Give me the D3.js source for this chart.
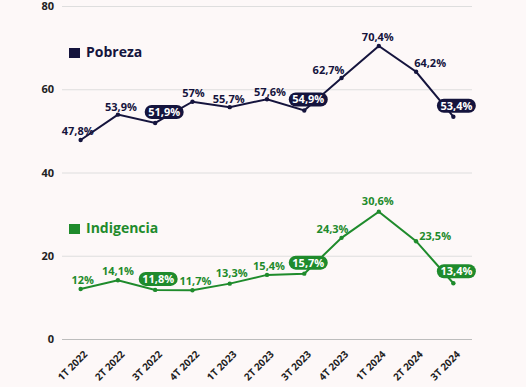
<!DOCTYPE html>
<html>
<head>
<meta charset="utf-8">
<script src="https://cdn.jsdelivr.net/npm/d3@7"></script>
<style>
  html, body { margin: 0; padding: 0; background: #fdf8f8; }
  svg { display: block; font-family: 'Open Sans', sans-serif; }
</style>
</head>
<body>
<svg id="chart" width="526" height="387"></svg>
<script>
// ------------------
// Data
// ------------------
const periods = ['1T 2022', '2T 2022', '3T 2022', '4T 2022', '1T 2023', '2T 2023',
  '3T 2023', '4T 2023', '1T 2024', '2T 2024', '3T 2024']
const pobreza = [47.8, 53.9, 51.9, 57, 55.7, 57.6, 54.9, 62.7, 70.4, 64.2, 53.4]
const indigencia = [12, 14.1, 11.8, 11.7, 13.3, 15.4, 15.7, 24.3, 30.6, 23.5, 13.4]
const yTicks = [0, 20, 40, 60, 80]
const highlighted = [2, 6, 10]

// label nudges (layout only)
const pobrezaNudge = [[-3, -9], [3, -8], [9, -11], [1, -9], [-1, -8], [3, -7], [4, -11], [-13, -8], [-1, -9], [14, -9], [3, -11]]
const indigenciaNudge = [[2, -9], [0, -9], [3, -11], [3, -9], [2, -10], [2, -9], [4, -11], [-9, -9], [-1, -10], [19, -5], [3, -12]]

const svg = d3.select('#chart')
const width = 526
const margin = { top: 6, right: 54, bottom: 48, left: 62 }
const innerWidth = width - margin.left - margin.right
const innerHeight = 339 - margin.top

const g = svg.append('g')
  .attr('transform', `translate(${margin.left},${margin.top})`)

// ------------------
// Scales
// ------------------
const x = d3.scalePoint()
  .domain(periods)
  .range([0, innerWidth])
  .padding(0.5)

const y = d3.scaleLinear()
  .domain([0, 80])
  .range([innerHeight, 0])

// ------------------
// Grid + axes
// ------------------
const yAxis = g.append('g')
  .call(d3.axisLeft(y).tickValues(yTicks).tickSize(-innerWidth).tickPadding(8))
yAxis.select('.domain').remove()
yAxis.selectAll('.tick line')
  .attr('stroke', d => d === 0 ? '#bdbdbd' : '#dedede')
  .attr('stroke-width', 1)
yAxis.selectAll('.tick text')
  .attr('font-size', 11)
  .attr('font-weight', 700)
  .attr('fill', '#222')
  .attr('font-family', "'Open Sans', sans-serif")

const xAxis = g.append('g')
  .attr('transform', `translate(0,${innerHeight})`)
  .call(d3.axisBottom(x).tickSize(0).tickPadding(0))
xAxis.select('.domain').remove()
xAxis.selectAll('.tick text')
  .attr('font-size', 10)
  .attr('font-weight', 700)
  .attr('fill', '#222')
  .attr('font-family', "'Open Sans', sans-serif")
  .attr('text-anchor', 'end')
  .attr('dy', 0)
  .attr('transform', 'translate(7,16) rotate(-45)')

// ------------------
// Series
// ------------------
function drawSeries(values, color, nudge, legendLabel, legendY) {
  const line = d3.line()
    .x((d, i) => x(periods[i]))
    .y(d => y(d))

  g.append('path')
    .datum(values)
    .attr('fill', 'none')
    .attr('stroke', color)
    .attr('stroke-width', 2)
    .attr('d', line)

  g.selectAll(null)
    .data(values)
    .enter()
    .append('circle')
    .attr('cx', (d, i) => x(periods[i]))
    .attr('cy', d => y(d))
    .attr('r', 2.2)
    .attr('fill', color)

  const labels = g.selectAll(null)
    .data(values)
    .enter()
    .append('g')
    .attr('transform', (d, i) =>
      `translate(${x(periods[i]) + nudge[i][0]},${y(d) + nudge[i][1]})`)

  labels.each(function (d, i) {
    const lg = d3.select(this)
    const txt = d3.format('.1f')(d).replace('.0', '').replace('.', ',') + '%'
    const isHi = highlighted.includes(i)
    if (isHi) {
      const w = txt.length * 6.6 + 6
      lg.append('rect')
        .attr('x', -w / 2)
        .attr('y', -7)
        .attr('width', w)
        .attr('height', 14)
        .attr('rx', 7)
        .attr('fill', color)
    }
    lg.append('text')
      .attr('text-anchor', 'middle')
      .attr('dy', '0.35em')
      .attr('font-size', 11)
      .attr('font-weight', 700)
      .attr('fill', isHi ? '#fff' : color)
      .text(txt)
  })

  // legend
  svg.append('rect')
    .attr('x', 69)
    .attr('y', legendY - 9)
    .attr('width', 11)
    .attr('height', 10)
    .attr('fill', color)
  svg.append('text')
    .attr('x', 86)
    .attr('y', legendY)
    .attr('font-size', 14)
    .attr('font-weight', 700)
    .attr('fill', color)
    .text(legendLabel)
}

drawSeries(pobreza, '#15143d', pobrezaNudge, 'Pobreza', 57)
drawSeries(indigencia, '#1f8b2c', indigenciaNudge, 'Indigencia', 233)
</script>
</body>
</html>
